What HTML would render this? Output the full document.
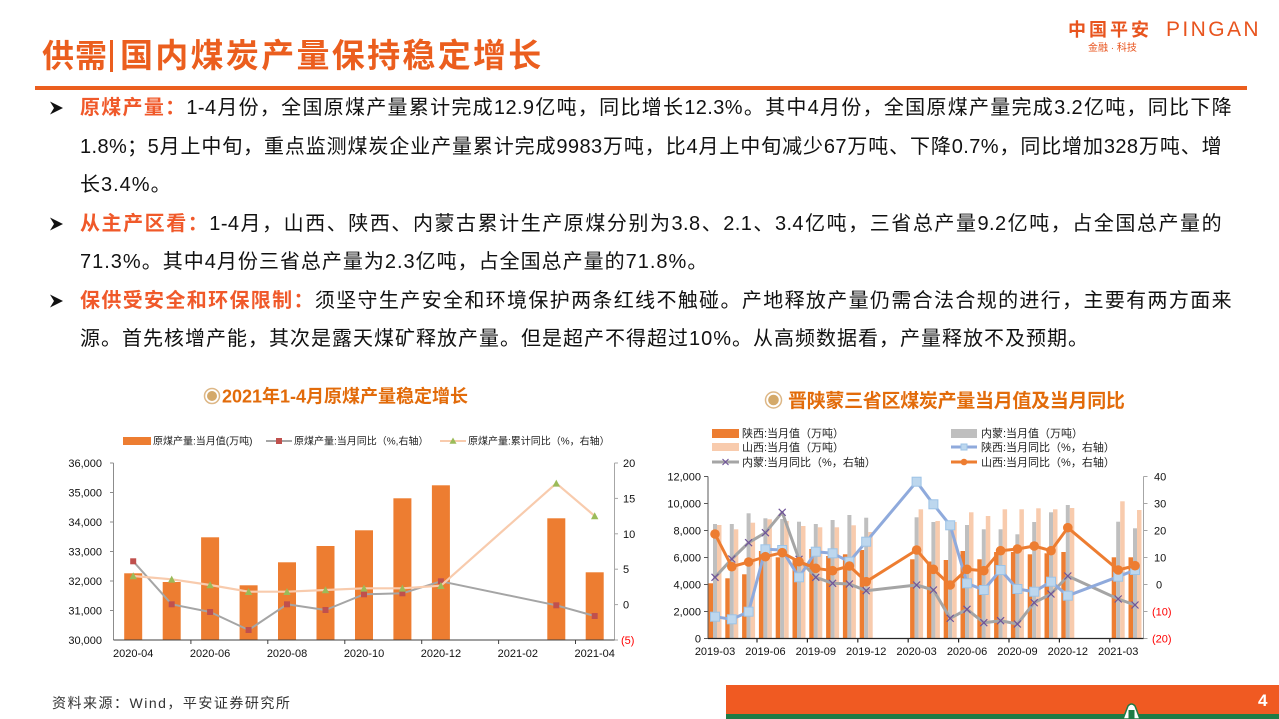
<!DOCTYPE html>
<html lang="zh-CN">
<head>
<meta charset="utf-8">
<style>
  html,body{margin:0;padding:0;background:#fff;}
  #page{position:relative;width:1279px;height:719px;overflow:hidden;background:#fff;
        font-family:"Liberation Sans","Noto Sans CJK SC",sans-serif;}
  .abs{position:absolute;}
  .ln{position:absolute;left:80px;height:30px;line-height:30px;font-size:20px;color:#111;
      font-family:"Liberation Sans","Noto Sans CJK SC",sans-serif;}
  .j{text-align:justify;text-align-last:justify;overflow:hidden;letter-spacing:0.4px;}
  .nj{white-space:nowrap;letter-spacing:1px;}
  .h{color:#F0592A;font-weight:bold;}
</style>
</head>
<body>
<div id="page">

  <!-- Header title -->
  <div class="abs" style="left:42px;top:38px;height:36px;line-height:36px;font-size:32px;color:#EB5E1E;font-weight:bold;letter-spacing:1px;font-family:'Liberation Sans','Noto Sans CJK SC',sans-serif;white-space:nowrap;">供需</div>
  <div class="abs" style="left:110px;top:40px;width:3px;height:32px;background:#EB5E1E;"></div>
  <div class="abs" style="left:120px;top:38px;height:36px;line-height:36px;font-size:33px;color:#EB5E1E;font-weight:bold;letter-spacing:2.3px;font-family:'Liberation Sans','Noto Sans CJK SC',sans-serif;white-space:nowrap;">国内煤炭产量保持稳定增长</div>

  <!-- Logo -->
  <div class="abs" style="left:1068px;top:18px;height:24px;line-height:24px;font-size:18px;font-weight:bold;color:#E8541E;letter-spacing:3px;white-space:nowrap;">中国平安</div>
  <div class="abs" style="left:1166px;top:17px;height:26px;line-height:26px;font-size:21px;color:#E8541E;letter-spacing:2.4px;white-space:nowrap;font-family:'Liberation Sans',sans-serif;">PINGAN</div>
  <div class="abs" style="left:1088px;top:42px;height:14px;line-height:14px;font-size:10px;color:#E8541E;white-space:nowrap;">金融 · 科技</div>

  <!-- Orange rule -->
  <div class="abs" style="left:35px;top:86px;width:1212px;height:4px;background:#EB5E1E;"></div>

  <!-- Bullets -->
  <svg class="abs" style="left:0;top:0;" width="1279" height="719" viewBox="0 0 1279 719">
    <polygon points="50,101.5 63,108 50,114.5 54,108" fill="#111"/>
    <polygon points="50,217.5 63,224 50,230.5 54,224" fill="#111"/>
    <polygon points="50,294.5 63,301 50,307.5 54,301" fill="#111"/>
  </svg>

  <!-- Paragraph lines -->
  <div class="ln j" style="top:93px;width:1152px;"><span class="h">原煤产量：</span>1-4月份，全国原煤产量累计完成12.9亿吨，同比增长12.3%。其中4月份，全国原煤产量完成3.2亿吨，同比下降</div>
  <div class="ln j" style="top:132px;width:1142px;">1.8%；5月上中旬，重点监测煤炭企业产量累计完成9983万吨，比4月上中旬减少67万吨、下降0.7%，同比增加328万吨、增</div>
  <div class="ln nj" style="top:170px;">长3.4%。</div>
  <div class="ln j" style="top:209px;width:1142px;"><span class="h">从主产区看：</span>1-4月，山西、陕西、内蒙古累计生产原煤分别为3.8、2.1、3.4亿吨，三省总产量9.2亿吨，占全国总产量的</div>
  <div class="ln nj" style="top:247px;">71.3%。其中4月份三省总产量为2.3亿吨，占全国总产量的71.8%。</div>
  <div class="ln j" style="top:286px;width:1152px;"><span class="h">保供受安全和环保限制：</span>须坚守生产安全和环境保护两条红线不触碰。产地释放产量仍需合法合规的进行，主要有两方面来</div>
  <div class="ln nj" style="top:324px;">源。首先核增产能，其次是露天煤矿释放产量。但是超产不得超过10%。从高频数据看，产量释放不及预期。</div>

  <!-- Charts -->
  <svg class="abs" style="left:0;top:0;" width="1279" height="719" viewBox="0 0 1279 719"
       font-family="Liberation Sans, Noto Sans CJK SC, sans-serif">
    <defs>
      <marker id="sqL" markerWidth="8" markerHeight="8" refX="4" refY="4" markerUnits="userSpaceOnUse"><rect x="1" y="1" width="6" height="6" fill="#C0504D"/></marker>
      <marker id="triL" markerWidth="9" markerHeight="9" refX="4.5" refY="4.5" markerUnits="userSpaceOnUse"><polygon points="4.5,0.8 8.2,7.8 0.8,7.8" fill="#9BBB59"/></marker>
      <marker id="sqB" markerWidth="11" markerHeight="11" refX="5.5" refY="5.5" markerUnits="userSpaceOnUse"><rect x="1" y="1" width="9" height="9" fill="#BDD7EE" stroke="#9DC3E6" stroke-width="1"/></marker>
      <marker id="xM" markerWidth="10" markerHeight="10" refX="5" refY="5" markerUnits="userSpaceOnUse"><path d="M1.5,1.5 L8.5,8.5 M8.5,1.5 L1.5,8.5" stroke="#6F5499" stroke-width="1.2" fill="none"/></marker>
      <marker id="ciO" markerWidth="11" markerHeight="11" refX="5.5" refY="5.5" markerUnits="userSpaceOnUse"><circle cx="5.5" cy="5.5" r="4.8" fill="#ED7D31"/></marker>
    </defs>

    <!-- ===== LEFT CHART ===== -->
    <circle cx="212" cy="396" r="7.5" fill="#fff" stroke="#DDB786" stroke-width="1.5"/>
    <circle cx="212" cy="396" r="5" fill="#D4A96A"/>
    <text x="222" y="402.5" font-size="18" font-weight="bold" fill="#E26B0A">2021年1-4月原煤产量稳定增长</text>

    <!-- legend -->
    <rect x="123" y="437" width="28" height="8" fill="#ED7D31"/>
    <text x="153" y="444.5" font-size="10" fill="#222">原煤产量:当月值(万吨)</text>
    <line x1="266" y1="441" x2="292" y2="441" stroke="#A5A5A5" stroke-width="2"/>
    <rect x="276" y="438" width="6" height="6" fill="#C0504D"/>
    <text x="294" y="444.5" font-size="10" fill="#222">原煤产量:当月同比（%,右轴）</text>
    <line x1="440" y1="441" x2="466" y2="441" stroke="#F8CBAD" stroke-width="2"/>
    <polygon points="453,437.5 456.5,443.8 449.5,443.8" fill="#9BBB59"/>
    <text x="468" y="444.5" font-size="10" fill="#222">原煤产量:累计同比（%，右轴）</text>

    <!-- bars -->
    <g fill="#ED7D31">
      <rect x="124.2" y="573.3" width="18" height="66.7"/>
      <rect x="162.7" y="582" width="18" height="58"/>
      <rect x="201.1" y="537.3" width="18" height="102.7"/>
      <rect x="239.6" y="585.3" width="18" height="54.7"/>
      <rect x="278" y="562.3" width="18" height="77.7"/>
      <rect x="316.5" y="546" width="18" height="94"/>
      <rect x="355" y="530.3" width="18" height="109.7"/>
      <rect x="393.4" y="498.3" width="18" height="141.7"/>
      <rect x="431.9" y="485.3" width="18" height="154.7"/>
      <rect x="547.3" y="518.3" width="18" height="121.7"/>
      <rect x="585.7" y="572.3" width="18" height="67.7"/>
    </g>

    <!-- axes -->
    <g stroke="#8C8C8C" stroke-width="1">
      <line x1="113.5" y1="463" x2="113.5" y2="640"/>
      <line x1="110" y1="463" x2="113.5" y2="463"/>
      <line x1="110" y1="492.5" x2="113.5" y2="492.5"/>
      <line x1="110" y1="522" x2="113.5" y2="522"/>
      <line x1="110" y1="551.5" x2="113.5" y2="551.5"/>
      <line x1="110" y1="581" x2="113.5" y2="581"/>
      <line x1="110" y1="610.5" x2="113.5" y2="610.5"/>
    </g>
    <g stroke="#A6A6A6" stroke-width="1">
      <line x1="614.5" y1="463" x2="614.5" y2="640"/>
      <line x1="614.5" y1="463" x2="618" y2="463"/>
      <line x1="614.5" y1="498.4" x2="618" y2="498.4"/>
      <line x1="614.5" y1="533.8" x2="618" y2="533.8"/>
      <line x1="614.5" y1="569.2" x2="618" y2="569.2"/>
      <line x1="614.5" y1="604.6" x2="618" y2="604.6"/>
      <line x1="614.5" y1="640" x2="618" y2="640"/>
    </g>
    <g stroke="#404040" stroke-width="1">
      <line x1="113.5" y1="640" x2="614.5" y2="640"/>
      <line x1="190.9" y1="640" x2="190.9" y2="644"/>
      <line x1="267.8" y1="640" x2="267.8" y2="644"/>
      <line x1="344.8" y1="640" x2="344.8" y2="644"/>
      <line x1="421.7" y1="640" x2="421.7" y2="644"/>
      <line x1="498.6" y1="640" x2="498.6" y2="644"/>
      <line x1="575.5" y1="640" x2="575.5" y2="644"/>
    </g>

    <!-- lines -->
    <polyline fill="none" stroke="#A5A5A5" stroke-width="2" stroke-linejoin="round"
      marker-start="url(#sqL)" marker-mid="url(#sqL)" marker-end="url(#sqL)"
      points="133.2,561.3 171.7,604.3 210.1,612 248.6,630 287,604.3 325.5,610 364,594.3 402.4,593.3 440.9,581.3 556.3,605.3 594.7,616"/>
    <polyline fill="none" stroke="#F8CBAD" stroke-width="2.2" stroke-linejoin="round"
      marker-start="url(#triL)" marker-mid="url(#triL)" marker-end="url(#triL)"
      points="133.2,576 171.7,579.3 210.1,585 248.6,591.7 287,591.7 325.5,590 364,588.3 402.4,588.3 440.9,585.7 556.3,483.3 594.7,516"/>

    <!-- left axis labels -->
    <g font-size="11" fill="#111" text-anchor="end">
      <text x="102" y="467">36,000</text>
      <text x="102" y="496.5">35,000</text>
      <text x="102" y="526">34,000</text>
      <text x="102" y="555.5">33,000</text>
      <text x="102" y="585">32,000</text>
      <text x="102" y="614.5">31,000</text>
      <text x="102" y="644">30,000</text>
    </g>
    <g font-size="11" fill="#111">
      <text x="623" y="467">20</text>
      <text x="623" y="502.4">15</text>
      <text x="623" y="537.8">10</text>
      <text x="623" y="573.2">5</text>
      <text x="623" y="608.6">0</text>
      <text x="621" y="644" fill="#FF0000">(5)</text>
    </g>
    <g font-size="11" fill="#111" text-anchor="middle">
      <text x="133.2" y="657">2020-04</text>
      <text x="210.1" y="657">2020-06</text>
      <text x="287" y="657">2020-08</text>
      <text x="364" y="657">2020-10</text>
      <text x="440.9" y="657">2020-12</text>
      <text x="517.8" y="657">2021-02</text>
      <text x="594.7" y="657">2021-04</text>
    </g>

    <!-- ===== RIGHT CHART ===== -->
    <circle cx="773.5" cy="400" r="8" fill="#fff" stroke="#DDB786" stroke-width="1.5"/>
    <circle cx="773.5" cy="400" r="5.3" fill="#D4A96A"/>
    <text x="788" y="407" font-size="19" font-weight="bold" fill="#E26B0A" letter-spacing="-0.3">晋陕蒙三省区煤炭产量当月值及当月同比</text>

    <!-- legend -->
    <g font-size="11" fill="#222">
      <rect x="712" y="429" width="27" height="9" fill="#ED7D31"/>
      <text x="742" y="437">陕西:当月值（万吨）</text>
      <rect x="951" y="429" width="26" height="9" fill="#BFBFBF"/>
      <text x="981" y="437">内蒙:当月值（万吨）</text>
      <rect x="712" y="443" width="27" height="8" fill="#F8CBAD"/>
      <text x="742" y="451">山西:当月值（万吨）</text>
      <line x1="951" y1="447" x2="977" y2="447" stroke="#8FAADC" stroke-width="3"/>
      <rect x="961" y="444" width="6" height="6" fill="#BDD7EE" stroke="#9DC3E6" stroke-width="1"/>
      <text x="981" y="451">陕西:当月同比（%，右轴）</text>
      <line x1="712" y1="462" x2="739" y2="462" stroke="#A5A5A5" stroke-width="3"/>
      <path d="M722.5,459 L728.5,465 M728.5,459 L722.5,465" stroke="#6F5499" stroke-width="1.1"/>
      <text x="742" y="466">内蒙:当月同比（%，右轴）</text>
      <line x1="951" y1="462" x2="977" y2="462" stroke="#ED7D31" stroke-width="3"/>
      <circle cx="964" cy="462" r="3.3" fill="#ED7D31"/>
      <text x="981" y="466">山西:当月同比（%，右轴）</text>
    </g>

    <!-- bars: 陕西 orange -->
    <g fill="#ED7D31">
      <rect x="708.5" y="583.3" width="4.5" height="54.7"/>
      <rect x="725.3" y="578.3" width="4.5" height="59.7"/>
      <rect x="742.1" y="574.3" width="4.5" height="63.7"/>
      <rect x="758.9" y="551" width="4.5" height="87"/>
      <rect x="775.7" y="557.3" width="4.5" height="80.7"/>
      <rect x="792.5" y="559" width="4.5" height="79"/>
      <rect x="809.3" y="549" width="4.5" height="89"/>
      <rect x="826.1" y="556" width="4.5" height="82"/>
      <rect x="842.9" y="554.3" width="4.5" height="83.7"/>
      <rect x="859.7" y="550" width="4.5" height="88"/>
      <rect x="910.1" y="559.3" width="4.5" height="78.7"/>
      <rect x="926.9" y="561.5" width="4.5" height="76.5"/>
      <rect x="943.7" y="560" width="4.5" height="78"/>
      <rect x="960.5" y="551" width="4.5" height="87"/>
      <rect x="977.3" y="559.3" width="4.5" height="78.7"/>
      <rect x="994.1" y="552" width="4.5" height="86"/>
      <rect x="1010.9" y="552" width="4.5" height="86"/>
      <rect x="1027.7" y="554.3" width="4.5" height="83.7"/>
      <rect x="1044.5" y="553.3" width="4.5" height="84.7"/>
      <rect x="1061.3" y="552" width="4.5" height="86"/>
      <rect x="1111.7" y="557.3" width="4.5" height="80.7"/>
      <rect x="1128.5" y="557.3" width="4.5" height="80.7"/>
    </g>
    <!-- 内蒙 gray -->
    <g fill="#BFBFBF">
      <rect x="713" y="524" width="4" height="114"/>
      <rect x="729.8" y="524" width="4" height="114"/>
      <rect x="746.6" y="513.3" width="4" height="124.7"/>
      <rect x="763.4" y="518.3" width="4" height="119.7"/>
      <rect x="780.2" y="519" width="4" height="119"/>
      <rect x="797" y="521.7" width="4" height="116.3"/>
      <rect x="813.8" y="524" width="4" height="114"/>
      <rect x="830.6" y="520" width="4" height="118"/>
      <rect x="847.4" y="515" width="4" height="123"/>
      <rect x="864.2" y="517.7" width="4" height="120.3"/>
      <rect x="914.6" y="517.3" width="4" height="120.7"/>
      <rect x="931.4" y="522" width="4" height="116"/>
      <rect x="948.2" y="522.7" width="4" height="115.3"/>
      <rect x="965" y="525" width="4" height="113"/>
      <rect x="981.8" y="529.3" width="4" height="108.7"/>
      <rect x="998.6" y="529.3" width="4" height="108.7"/>
      <rect x="1015.4" y="534.3" width="4" height="103.7"/>
      <rect x="1032.2" y="522" width="4" height="116"/>
      <rect x="1049" y="512.3" width="4" height="125.7"/>
      <rect x="1065.8" y="505" width="4" height="133"/>
      <rect x="1116.2" y="521.7" width="4" height="116.3"/>
      <rect x="1133" y="528.3" width="4" height="109.7"/>
    </g>
    <!-- 山西 peach -->
    <g fill="#F8CBAD">
      <rect x="717" y="525" width="4.5" height="113"/>
      <rect x="733.8" y="529.3" width="4.5" height="108.7"/>
      <rect x="750.6" y="522.7" width="4.5" height="115.3"/>
      <rect x="767.4" y="519.3" width="4.5" height="118.7"/>
      <rect x="784.2" y="521" width="4.5" height="117"/>
      <rect x="801" y="526" width="4.5" height="112"/>
      <rect x="817.8" y="527.3" width="4.5" height="110.7"/>
      <rect x="834.6" y="527.3" width="4.5" height="110.7"/>
      <rect x="851.4" y="525.3" width="4.5" height="112.7"/>
      <rect x="868.2" y="532" width="4.5" height="106"/>
      <rect x="918.6" y="509.3" width="4.5" height="128.7"/>
      <rect x="935.4" y="521" width="4.5" height="117"/>
      <rect x="952.2" y="522" width="4.5" height="116"/>
      <rect x="969" y="512.3" width="4.5" height="125.7"/>
      <rect x="985.8" y="516" width="4.5" height="122"/>
      <rect x="1002.6" y="509.3" width="4.5" height="128.7"/>
      <rect x="1019.4" y="509.3" width="4.5" height="128.7"/>
      <rect x="1036.2" y="508.3" width="4.5" height="129.7"/>
      <rect x="1053" y="509.3" width="4.5" height="128.7"/>
      <rect x="1069.8" y="508" width="4.5" height="130"/>
      <rect x="1120.2" y="501.3" width="4.5" height="136.7"/>
      <rect x="1137" y="510" width="4.5" height="128"/>
    </g>

    <!-- right chart axes -->
    <g stroke="#595959" stroke-width="1">
      <line x1="708" y1="476.5" x2="708" y2="638.5"/>
      <line x1="704" y1="476.5" x2="708" y2="476.5"/>
      <line x1="704" y1="503.5" x2="708" y2="503.5"/>
      <line x1="704" y1="530.5" x2="708" y2="530.5"/>
      <line x1="704" y1="557.5" x2="708" y2="557.5"/>
      <line x1="704" y1="584.5" x2="708" y2="584.5"/>
      <line x1="704" y1="611.5" x2="708" y2="611.5"/>
      <line x1="704" y1="638.5" x2="708" y2="638.5"/>
    </g>
    <g stroke="#A6A6A6" stroke-width="1">
      <line x1="1143.5" y1="476.5" x2="1143.5" y2="638.5"/>
      <line x1="1143.5" y1="476.5" x2="1147.5" y2="476.5"/>
      <line x1="1143.5" y1="503.5" x2="1147.5" y2="503.5"/>
      <line x1="1143.5" y1="530.5" x2="1147.5" y2="530.5"/>
      <line x1="1143.5" y1="557.5" x2="1147.5" y2="557.5"/>
      <line x1="1143.5" y1="584.5" x2="1147.5" y2="584.5"/>
      <line x1="1143.5" y1="611.5" x2="1147.5" y2="611.5"/>
      <line x1="1143.5" y1="638.5" x2="1147.5" y2="638.5"/>
    </g>
    <g stroke="#262626" stroke-width="1.2">
      <line x1="708" y1="638.5" x2="1143.5" y2="638.5"/>
      <line x1="757" y1="638.5" x2="757" y2="642.5"/>
      <line x1="807.4" y1="638.5" x2="807.4" y2="642.5"/>
      <line x1="857.8" y1="638.5" x2="857.8" y2="642.5"/>
      <line x1="908.2" y1="638.5" x2="908.2" y2="642.5"/>
      <line x1="958.6" y1="638.5" x2="958.6" y2="642.5"/>
      <line x1="1009" y1="638.5" x2="1009" y2="642.5"/>
      <line x1="1059.4" y1="638.5" x2="1059.4" y2="642.5"/>
      <line x1="1109.8" y1="638.5" x2="1109.8" y2="642.5"/>
    </g>

    <!-- right chart lines -->
    <polyline fill="none" stroke="#A5A5A5" stroke-width="3" stroke-linejoin="round"
      marker-start="url(#xM)" marker-mid="url(#xM)" marker-end="url(#xM)"
      points="715,577.3 731.8,559 748.6,542.7 765.4,532.7 782.2,512.3 799,559.3 815.8,577.3 832.6,583.3 849.4,584 866.2,590.7 916.6,585 933.4,590 950.2,618.3 967,609.3 983.8,622.7 1000.6,620.7 1017.4,624 1034.2,602.7 1051,594 1067.8,576 1118.2,599 1135,605"/>
    <polyline fill="none" stroke="#8FAADC" stroke-width="3" stroke-linejoin="round"
      marker-start="url(#sqB)" marker-mid="url(#sqB)" marker-end="url(#sqB)"
      points="715,616.7 731.8,619.3 748.6,611.7 765.4,549.3 782.2,550 799,577.3 815.8,551.7 832.6,553.3 849.4,561.7 866.2,541.7 916.6,481.7 933.4,504.3 950.2,525.3 967,583.3 983.8,590 1000.6,570 1017.4,589 1034.2,591.7 1051,581.7 1067.8,595.7 1118.2,576.7 1135,570"/>
    <polyline fill="none" stroke="#ED7D31" stroke-width="3" stroke-linejoin="round"
      marker-start="url(#ciO)" marker-mid="url(#ciO)" marker-end="url(#ciO)"
      points="715,534 731.8,566.7 748.6,562 765.4,556.7 782.2,552.7 799,561.7 815.8,568.3 832.6,570.7 849.4,566 866.2,581.7 916.6,550 933.4,569.3 950.2,585 967,569.3 983.8,570.7 1000.6,550.7 1017.4,549 1034.2,546 1051,550.7 1067.8,527.7 1118.2,570 1135,565.7"/>

    <!-- right chart labels -->
    <g font-size="11" fill="#111" text-anchor="end">
      <text x="701" y="480.5">12,000</text>
      <text x="701" y="507.5">10,000</text>
      <text x="701" y="534.5">8,000</text>
      <text x="701" y="561.5">6,000</text>
      <text x="701" y="588.5">4,000</text>
      <text x="701" y="615.5">2,000</text>
      <text x="701" y="642.5">0</text>
    </g>
    <g font-size="11" fill="#111">
      <text x="1154" y="480.5">40</text>
      <text x="1154" y="507.5">30</text>
      <text x="1154" y="534.5">20</text>
      <text x="1154" y="561.5">10</text>
      <text x="1156" y="588.5">0</text>
      <text x="1152" y="615.5" fill="#FF0000">(10)</text>
      <text x="1152" y="642.5" fill="#FF0000">(20)</text>
    </g>
    <g font-size="11" fill="#111" text-anchor="middle">
      <text x="715" y="655">2019-03</text>
      <text x="765.4" y="655">2019-06</text>
      <text x="815.8" y="655">2019-09</text>
      <text x="866.2" y="655">2019-12</text>
      <text x="916.6" y="655">2020-03</text>
      <text x="967" y="655">2020-06</text>
      <text x="1017.4" y="655">2020-09</text>
      <text x="1067.8" y="655">2020-12</text>
      <text x="1118.2" y="655">2021-03</text>
    </g>

    <!-- Footer -->
    <rect x="726" y="685" width="553" height="29" fill="#F05A22"/>
    <rect x="726" y="714" width="553" height="5" fill="#1E7B45"/>
    <path d="M1123,719 L1128,706 Q1131.5,702 1135,706 L1140,719 Z" fill="#fff" stroke="#1E7B45" stroke-width="1.5"/>
    <rect x="1128.5" y="710" width="6" height="9" fill="#1E7B45"/>
    <text x="1258" y="706" font-size="17" font-weight="bold" fill="#fff" font-family="Liberation Sans, sans-serif">4</text>
  </svg>

  <div class="abs" style="left:52px;top:693px;height:20px;line-height:20px;font-size:14px;color:#333;letter-spacing:1.5px;white-space:nowrap;">资料来源：Wind，平安证券研究所</div>
</div>
</body>
</html>
